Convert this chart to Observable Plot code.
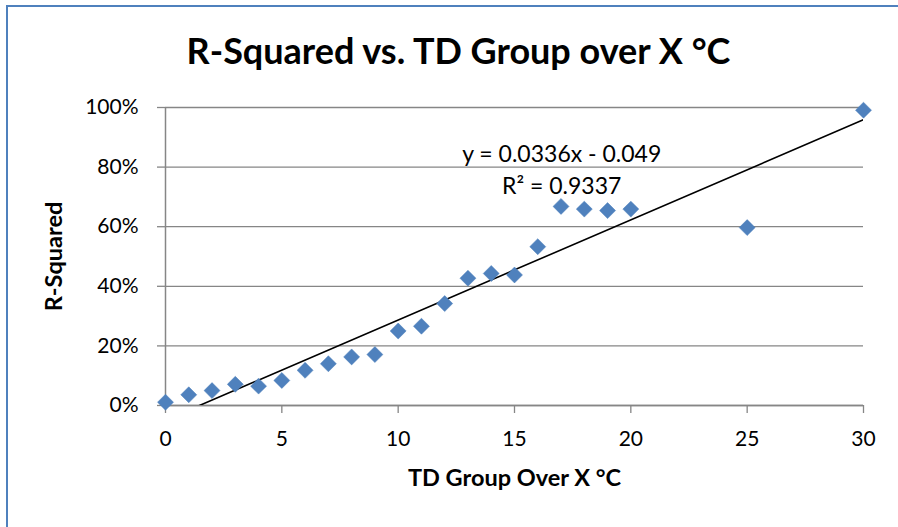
<!DOCTYPE html>
<html>
<head>
<meta charset="utf-8">
<script src="https://cdn.jsdelivr.net/npm/d3@7"></script>
<script src="https://cdn.jsdelivr.net/npm/@observablehq/plot@0.6"></script>
<style>
  html, body { margin: 0; padding: 0; background: #fff; overflow: hidden; }
  #wrap { position: relative; width: 898px; height: 527px; overflow: hidden; }
  #frame { position: absolute; left: 6px; top: 5px; width: 1000px; height: 1000px;
           border-left: 2px solid #4f81bd; border-top: 2px solid #4f81bd; pointer-events: none; }
</style>
</head>
<body>
<div id="wrap"><div id="frame"></div></div>
<script>
// Data
const tdGroup = [0, 1, 2, 3, 4, 5, 6, 7, 8, 9, 10, 11, 12, 13, 14, 15, 16, 17, 18, 19, 20, 25, 30];
const rSquared = [0.011, 0.036, 0.050, 0.071, 0.065, 0.084, 0.118, 0.140, 0.163, 0.171, 0.250, 0.266, 0.342,
                  0.427, 0.443, 0.438, 0.533, 0.668, 0.659, 0.654, 0.659, 0.597, 0.991];
const trendSlope = 0.0336;
const trendIntercept = -0.049;
const trendRange = [0, 30];
const xTicks = [0, 5, 10, 15, 20, 25, 30];
const yTicks = [0, 0.2, 0.4, 0.6, 0.8, 1.0];
const titleText = "R-Squared vs. TD Group over X °C";
const xLabel = "TD Group Over X °C";
const yLabel = "R-Squared";
const eqLabels = ["y = 0.0336x - 0.049", "R² = 0.9337"];
const eqPos = [{x: 17.03, y: 0.842}, {x: 17.03, y: 0.735}];

const points = tdGroup.map((x, i) => ({x, y: rSquared[i]}));
const trend = trendRange.map(x => ({x, y: trendSlope * x + trendIntercept}));
const eqData = eqLabels.map((t, i) => ({text: t, ...eqPos[i]}));

const grey = "#868686";
const font = "Lato, 'Open Sans', sans-serif";

const chart = Plot.plot({
  width: 898,
  height: 527,
  marginLeft: 165,
  marginRight: 35,
  marginTop: 107,
  marginBottom: 122,
  style: {fontFamily: font, fontSize: "21px", color: "#000", background: "transparent"},
  x: {domain: [0, 30]},
  y: {domain: [0, 1]},
  marks: [
    Plot.gridY(yTicks, {stroke: grey, strokeOpacity: 1, strokeWidth: 1.3}),
    Plot.ruleX([0], {stroke: grey, strokeWidth: 1.5}),
    Plot.ruleY([0], {stroke: grey, strokeWidth: 1.5}),
    Plot.axisY(yTicks, {tickSize: 8, tickPadding: 19, stroke: grey, strokeWidth: 1.3, fill: "#000",
      tickFormat: d3.format(".0%"), label: null, fontSize: 21}),
    Plot.axisX(xTicks, {tickSize: 8, tickPadding: 18, stroke: grey, strokeWidth: 1.3, fill: "#000",
      label: null, fontSize: 21}),
    Plot.line(trend, {x: "x", y: "y", stroke: "#000", strokeWidth: 1.6, clip: true}),
    Plot.dot(points, {x: "x", y: "y", symbol: "diamond2", r: 7.2, fill: "#4f81bd", stroke: "#4a7ebb", strokeWidth: 0.5}),
    Plot.text(eqData, {x: "x", y: "y", text: "text", fontSize: 23, fill: "#000"}),
    Plot.text([titleText], {frameAnchor: "top", textAnchor: "middle", lineAnchor: "middle", dx: -56, dy: -55,
      fontSize: 36, fontWeight: "bold", fill: "#000"}),
    Plot.text([xLabel], {frameAnchor: "bottom", textAnchor: "middle", lineAnchor: "middle", dy: 73,
      fontSize: 23.5, fontWeight: "bold", fill: "#000"}),
    Plot.text([yLabel], {frameAnchor: "left", textAnchor: "middle", lineAnchor: "middle", dx: -111, rotate: -90,
      fontSize: 23.5, fontWeight: "bold", fill: "#000"})
  ]
});
document.getElementById("wrap").prepend(chart);
</script>
</body>
</html>
